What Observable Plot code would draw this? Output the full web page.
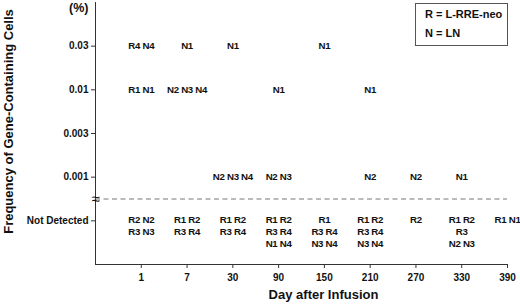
<!DOCTYPE html>
<html>
<head>
<meta charset="utf-8">
<script src="https://cdn.jsdelivr.net/npm/d3@7"></script>
<script src="https://cdn.jsdelivr.net/npm/@observablehq/plot@0.6"></script>
<style>
  html, body { margin: 0; padding: 0; background: #fff; }
  #wrap { position: relative; width: 520px; height: 307px; font-family: "Liberation Sans", Arial, Helvetica, sans-serif; }
  #legend { position: absolute; left: 415px; top: 3px; width: 91px; height: 41px; border: 1px solid #555; background: #fff;
            font-size: 11px; font-weight: bold; color: #111; }
  #legend div { position: absolute; left: 9px; white-space: nowrap; }
  .cell { letter-spacing: -0.3px; }
</style>
</head>
<body>
<div id="wrap">
  <div id="legend"><div style="top:4px">R = L-RRE-neo</div><div style="top:23px">N = LN</div></div>
</div>
<script>
// Categories
const days = ["1", "7", "30", "90", "150", "210", "270", "330", "390"];
const levels = ["Not Detected", "0.001", "0.003", "0.01", "0.03"];
const unitLabel = "(%)";
const breakLevel = 0.5; // axis break between "Not Detected" and 0.001

// Vector-marked cell labels per frequency level: [day, label]
const freq003 = [["1", "R4 N4"], ["7", "N1"], ["30", "N1"], ["150", "N1"]];
const freq001 = [["1", "R1 N1"], ["7", "N2 N3 N4"], ["90", "N1"], ["210", "N1"]];
const freq0003 = [];
const freq0001 = [["30", "N2 N3 N4"], ["90", "N2 N3"], ["210", "N2"], ["270", "N2"], ["330", "N1"]];
const notDetected = [
  ["1", "R2 N2\nR3 N3"],
  ["7", "R1 R2\nR3 R4"],
  ["30", "R1 R2\nR3 R4"],
  ["90", "R1 R2\nR3 R4\nN1 N4"],
  ["150", "R1\nR3 R4\nN3 N4"],
  ["210", "R1 R2\nR3 R4\nN3 N4"],
  ["270", "R2"],
  ["330", "R1 R2\nR3\nN2 N3"],
  ["390", "R1 N1"]
];

const toRows = (arr, level) => arr.map(([d, t]) => ({x: days.indexOf(d) + 1, y: levels.indexOf(level), text: t}));
const detected = [
  ...toRows(freq003, "0.03"),
  ...toRows(freq001, "0.01"),
  ...toRows(freq0003, "0.003"),
  ...toRows(freq0001, "0.001")
];
const undetected = toRows(notDetected, "Not Detected");

const ink = "#111";
const chart = Plot.plot({
  width: 520,
  height: 307,
  marginLeft: 95,
  marginRight: 13,
  marginTop: 2,
  marginBottom: 43,
  style: {fontFamily: '"Liberation Sans", Arial, Helvetica, sans-serif', fontSize: "10px", fontWeight: "bold", color: ink, background: "transparent"},
  x: {domain: [0, days.length], axis: null},
  y: {domain: [-1, levels.length], axis: null},
  marks: [
    Plot.ruleY([breakLevel], {stroke: "#777", strokeDasharray: "5,3.5", strokeWidth: 1}),
    Plot.frame({anchor: "left", stroke: "#333"}),
    Plot.frame({anchor: "bottom", stroke: "#333"}),
    Plot.axisX({ticks: d3.range(1, days.length + 1), tickFormat: i => days[i - 1], tickSize: 4, tickPadding: 5, label: null, stroke: "#333"}),
    Plot.axisY({ticks: d3.range(0, levels.length), tickFormat: i => levels[i], tickSize: 4, tickPadding: 3, label: null, stroke: "#333"}),
    Plot.axisY({ticks: [levels.length], tickFormat: () => unitLabel, tickSize: 0, tickPadding: 7, dy: 5, fontSize: 12.5, label: null}),
    Plot.text(["≈"], {x: 0, y: breakLevel, fontSize: 15, fontWeight: "normal", fill: ink}),
    Plot.text(detected, {x: "x", y: "y", text: "text", fill: ink, fontSize: 9.7, className: "cell"}),
    Plot.text(undetected, {x: "x", y: "y", text: "text", fill: ink, fontSize: 9.7, className: "cell", lineAnchor: "top", lineHeight: 1.24, dy: -6}),
    Plot.text(["Day after Infusion"], {frameAnchor: "bottom", dx: 22, dy: 34, fontSize: 13, fill: ink}),
    Plot.text(["Frequency of Gene-Containing Cells"], {frameAnchor: "left", textAnchor: "middle", rotate: -90, dx: -87, dy: -12, fontSize: 13, fill: ink})
  ]
});
document.getElementById("wrap").prepend(chart);
</script>
</body>
</html>
